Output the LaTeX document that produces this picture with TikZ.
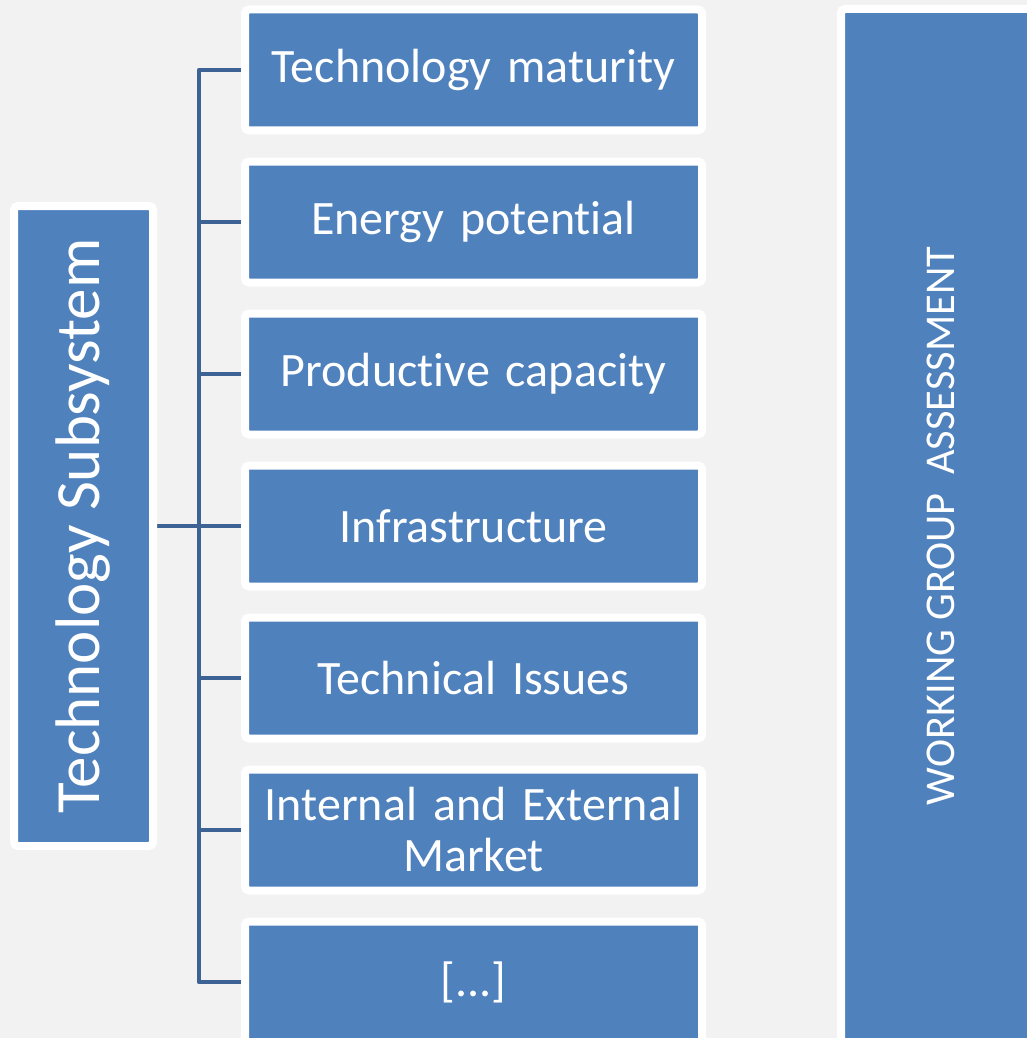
\documentclass[tikz,border=0pt]{standalone}
\usepackage{fontspec}
\setmainfont[Ligatures=CommonOff]{Carlito}
\usetikzlibrary{backgrounds}
\definecolor{boxBlue}{RGB}{79,129,189}
\definecolor{lineBlue}{RGB}{60,99,148}
\definecolor{pageGray}{RGB}{242,242,242}
\begin{document}
\begin{tikzpicture}
[x=1pt,y=-1pt,%
  boxDecorate/.style={fill=boxBlue,draw=white,line width=8pt,rounded corners=4pt,
    text=white,inner sep=4pt},
  itemDecorate/.style={boxDecorate,text width=449pt,align=center,minimum height=121pt,
    font=\fontsize{48}{51}\selectfont},
  lineDecorate/.style={draw=lineBlue,line width=4.5pt,line join=round}]
\useasboundingbox (0,0) rectangle (1027,1038);
%% subsystem and assessment boxes
\node (subsystem) at (83.5,526) [boxDecorate,minimum width=139pt,minimum height=640pt,
  font=\fontsize{63}{68}\selectfont] {\rotatebox{90}{Technology Subsystem}};
\node (assessment) at (941,526) [boxDecorate,minimum width=200pt,minimum height=1034pt,
  font=\fontsize{42.4}{46}\selectfont] {\rotatebox{90}{WORKING GROUP\ \ ASSESSMENT}};
%% items
\foreach \nodename/\y/\itemtext in {
  maturity/70/Technology maturity, potential/222/Energy potential,
  capacity/374/Productive capacity, infra/526/Infrastructure,
  issues/678/Technical Issues, market/830/{Internal and External\\Market},
  more/982/{[...]}}
{
  \node (\nodename) at (473.5,\y) [itemDecorate] {\itemtext};
}
%% connectors
\begin{scope}[on background layer]
\fill[pageGray] (0,0) rectangle (1027,1038);
\path[lineDecorate] (maturity.west) -- ++(-42,0) coordinate (trunktop)
  |- (more.west);
\foreach \nodename in {potential, capacity, infra, issues, market}
{
  \path[lineDecorate] (\nodename.west) -- ++(-42,0);
}
\path[lineDecorate] (subsystem.east) -- (subsystem.east -| trunktop);
\end{scope}
\end{tikzpicture}
\end{document}
